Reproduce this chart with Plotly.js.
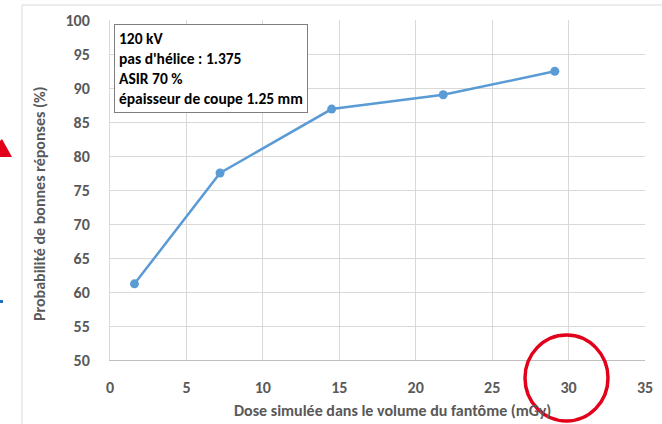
<!DOCTYPE html>
<html>
<head>
<meta charset="utf-8">
<script src="https://cdn.plot.ly/plotly-3.0.1.min.js"></script>
<style>html,body{margin:0;padding:0;background:#fff;}#chart{width:662px;height:424px;}</style>
</head>
<body>
<div id="chart"></div>
<script>
// Data
const doseValues = [1.6, 7.2, 14.5, 21.8, 29.1];
const probValues = [61.2, 77.5, 86.9, 89.0, 92.45];
const xTicks = [0, 5, 10, 15, 20, 25, 30, 35];
const yTicks = [50, 55, 60, 65, 70, 75, 80, 85, 90, 95, 100];
const boxLines = ["120 kV", "pas d'hélice : 1.375", "ASIR 70 %", "épaisseur de coupe 1.25 mm"];
const xTitle = "Dose simulée dans le volume du fantôme (mGy)";
const yTitle = "Probabilité de bonnes réponses (%)";

const W = 662, H = 424;
const M = {l: 110, r: 17, t: 20, b: 64};
const PW = W - M.l - M.r, PH = H - M.t - M.b;
const px = x => (x - M.l) / PW;
const py = y => (H - M.b - y) / PH;

const FONT = "Carlito, Lato, 'Liberation Sans', sans-serif";
const GREY = "#595959";

const trace = {
  x: doseValues, y: probValues, type: "scatter", mode: "lines+markers",
  line: {color: "#5b9bd5", width: 2.5},
  marker: {color: "#5b9bd5", size: 9},
  hoverinfo: "skip", showlegend: false
};

const layout = {
  width: W, height: H,
  margin: M,
  paper_bgcolor: "#fff", plot_bgcolor: "#fff",
  font: {family: FONT, color: GREY},
  xaxis: {
    range: [0, 35], tickvals: xTicks, ticktext: xTicks.map(String),
    showgrid: true, gridcolor: "#d9d9d9", gridwidth: 1,
    zeroline: false, showline: true, linecolor: "#bfbfbf", linewidth: 1,
    ticks: "", ticklabelstandoff: 13,
    tickfont: {family: FONT, size: 16, color: GREY, weight: "bold"}
  },
  yaxis: {
    range: [50, 100], tickvals: yTicks, ticktext: yTicks.map(String),
    showgrid: true, gridcolor: "#d9d9d9", gridwidth: 1,
    zeroline: false, showline: true, linecolor: "#d9d9d9", linewidth: 1,
    ticks: "", ticklabelstandoff: 16,
    tickfont: {family: FONT, size: 16, color: GREY, weight: "bold"}
  },
  annotations: [
    {
      xref: "paper", yref: "paper", x: px(114), y: py(24),
      xanchor: "left", yanchor: "top", align: "left", showarrow: false,
      text: boxLines.map(s => "<b>" + s + "</b>").join("<br>"),
      font: {family: FONT, size: 15.5, color: "#000"},
      bordercolor: "#7f7f7f", borderwidth: 1, borderpad: 4, bgcolor: "#fff"
    },
    {
      xref: "paper", yref: "paper", x: px(392), y: py(410),
      xanchor: "center", yanchor: "middle", showarrow: false,
      text: "<b>" + xTitle + "</b>",
      font: {family: FONT, size: 16, color: GREY}
    },
    {
      xref: "paper", yref: "paper", x: px(39), y: py(204),
      xanchor: "center", yanchor: "middle", showarrow: false, textangle: -90,
      text: "<b>" + yTitle + "</b>",
      font: {family: FONT, size: 16, color: GREY}
    }
  ],
  shapes: [
    {type: "rect", xref: "paper", yref: "paper", x0: px(22), y0: py(5), x1: px(W + 5), y1: py(H + 5),
     line: {color: "#d9d9d9", width: 1}, fillcolor: "rgba(0,0,0,0)", layer: "below"},
    {type: "path", xref: "paper", yref: "paper",
     path: `M ${px(0)},${py(157)} L ${px(12)},${py(157)} L ${px(2)},${py(139)} L ${px(0)},${py(141)} Z`,
     fillcolor: "#e3001b", line: {width: 0}},
    {type: "rect", xref: "paper", yref: "paper", x0: px(0), y0: py(300), x1: px(3), y1: py(303),
     fillcolor: "#1f6fc5", line: {width: 0}},
    {type: "circle", xref: "paper", yref: "paper", x0: px(525), y0: py(335), x1: px(608), y1: py(421),
     line: {color: "#e3001b", width: 3.5}, fillcolor: "rgba(0,0,0,0)"}
  ]
};

Plotly.newPlot("chart", [trace], layout, {staticPlot: true, displayModeBar: false});
</script>
</body>
</html>
